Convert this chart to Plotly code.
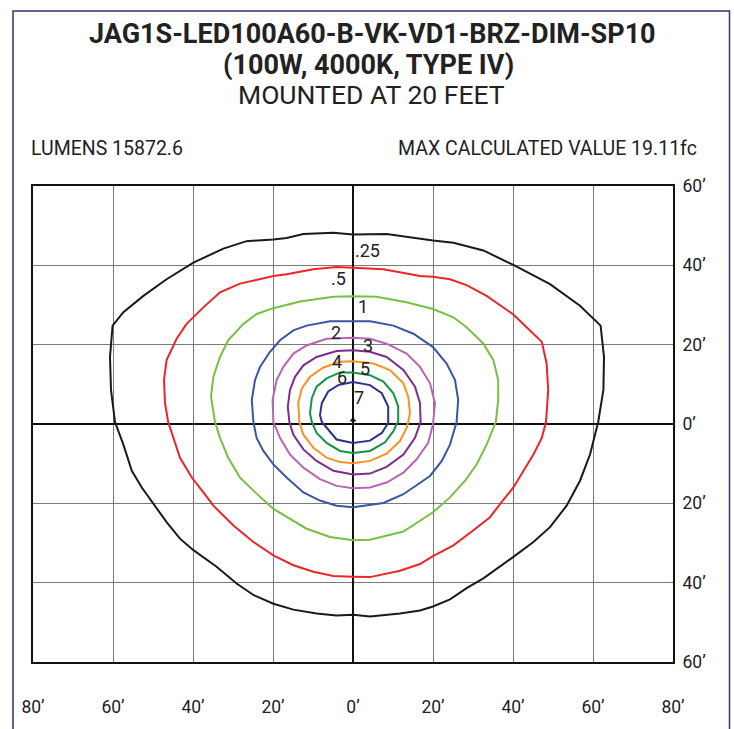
import plotly.graph_objects as go

# ---- data (feet) ----
LEVELS = [".25", ".5", "1", "2", "3", "4", "5", "6", "7"]
COLORS = ["#1a1a1a", "#ed2529", "#78c043", "#3b55a6", "#b766b4", "#7a2e8d", "#f7931e", "#149447", "#2e3192"]

C025_X = [0, 8.4, 20, 25.1, 32.6, 40.1, 49.25, 56.75, 61.9, 62.75, 62.6, 61.3, 60.5, 59.25, 56.75, 53.4, 49.25, 45.1, 40.1, 35.9, 32.6, 28.4, 24.25, 20, 16.75, 11.75, 4.25, 0, -4.1, -9.1, -14.9, -19.9, -24.9, -29.1, -34.1, -39.9, -43.25, -46.6, -49.9, -52.8, -55.3, -57.4, -59.5, -60.5, -60.75, -60.1, -57.4, -52.4, -46.6, -39.9, -32.4, -26.6, -19.9, -16.6, -12.4, -4.9, 0]
C025_Y = [47.75, 47.9, 46.25, 45.7, 43.75, 40.1, 35.25, 29.8, 24.8, 16.9, 8.6, 0.5, -2.7, -7.7, -14.3, -20.6, -26, -29.75, -33.5, -36.4, -38.9, -41.4, -44.2, -46, -47, -47.8, -48.5, -48.1, -48.25, -47.8, -46.8, -45.3, -43.1, -40.2, -36, -31.8, -28.9, -24.75, -20.2, -16, -11.8, -5.2, 0.5, 8.6, 16.9, 24.8, 28.2, 32.3, 36.5, 40.7, 44.2, 46.1, 46.5, 46.9, 47.9, 48.2, 47.75]

C05_X = [0, 7.6, 16.75, 20, 24.25, 28.4, 33.4, 40.1, 43.4, 47.2, 48.4, 48.8, 48.25, 47.2, 45.1, 42.6, 40.1, 36.75, 34.25, 30.1, 25.1, 20, 16.75, 11.75, 4.25, 0, -4.9, -9.9, -14.9, -19.9, -24.9, -29.9, -34.9, -37.4, -40.3, -43.25, -44.9, -46.2, -47, -47.25, -46.6, -44.1, -41.6, -37.4, -33.25, -28.25, -19.9, -16.6, -9.9, -4.1, 0]
C05_Y = [39.4, 39, 37.3, 37.1, 36.5, 35, 32.3, 27.6, 24.4, 20.7, 15.25, 8.6, 0.5, -3.5, -7.7, -11.8, -16, -20.2, -23.5, -26.8, -30.6, -33.3, -35.3, -37, -38.6, -38.5, -38.3, -37.25, -35.6, -33.1, -29.75, -25.6, -20.6, -17.25, -13.5, -8.5, -3.5, 0.5, 5.25, 11.1, 16.1, 21.5, 25.25, 29.4, 33.2, 35.4, 37.3, 37.75, 39, 39.6, 39.4]

C1_X = [0, 5.9, 13.4, 20, 25.1, 28.4, 32.6, 35.1, 36.3, 36.3, 35.7, 35.1, 33.4, 30.9, 28, 24.25, 20, 12.6, 4.25, 0, -5.75, -11.6, -15.75, -19.9, -24.9, -28.25, -31.2, -33.25, -34.5, -35.5, -34.9, -33.25, -31.2, -27.4, -24.1, -19.9, -13.25, -4.9, 0]
C1_Y = [32.2, 32.1, 30.7, 29, 26.9, 24.4, 20.25, 16.1, 11.1, 6.1, 0.5, -1, -5.2, -10.2, -14.3, -18.5, -22.25, -27.1, -29.2, -29.3, -28.5, -26.4, -23.9, -21.4, -16.8, -13.5, -8.5, -3.5, 0.5, 6.9, 11.9, 16.9, 21.1, 25.25, 27.75, 29.2, 30.9, 32.1, 32.2]

C2_X = [0, 4.25, 10.1, 15.1, 20, 23.4, 25.5, 26.3, 25.9, 25.5, 24.25, 22.2, 19.25, 12.6, 7.6, 0, -4.1, -8.25, -12.4, -16.6, -19.9, -22.4, -24.1, -24.9, -25.3, -24.5, -23.25, -20.75, -18.25, -14.9, -11.6, -5.75, 0]
C2_Y = [25.9, 25.9, 24.8, 22.75, 19.4, 15.25, 11.1, 6.1, 0.5, -1, -5.2, -9.3, -13.1, -17.7, -19.9, -21, -20.6, -19.3, -17.25, -13.5, -10.2, -6.8, -3.5, 0.5, 6.1, 11.1, 14.4, 18.2, 21.1, 23.6, 24.8, 25.9, 25.9]

C3_X = [0, 4.25, 8.4, 13.4, 16.75, 19.25, 20.5, 20, 18.8, 15.9, 12.6, 8.4, 4.25, 0, -4.1, -8.25, -12.4, -15.75, -18.25, -19.9, -20.1, -19.1, -17.4, -14.9, -11.6, -6.6, 0]
C3_Y = [21.75, 21.5, 20.25, 17.75, 14.4, 10.25, 5.25, 0, -4.75, -8.9, -12.25, -14.75, -16, -16.2, -15.6, -13.9, -11, -7.7, -3.5, 0.5, 6.1, 11.1, 14.4, 17.75, 19.8, 21.5, 21.75]

C4_X = [0, 4.25, 8.4, 12.6, 15.5, 16.75, 16.9, 15.5, 12.6, 8.4, 4.25, 0, -4.9, -9.1, -12.4, -14.9, -15.9, -16.3, -15.75, -14.5, -12.4, -9.1, -4.1, 0]
C4_Y = [18.6, 18.2, 16.9, 13.6, 9.4, 5.25, 0.5, -3.5, -7.7, -10.8, -12.5, -12.7, -11.8, -9.3, -6.4, -2.7, 0.5, 4.4, 8.6, 11.9, 14.8, 16.9, 18.4, 18.6]

C5_X = [0, 5.1, 9.25, 12.6, 13.8, 14.25, 13.8, 13.4, 11.75, 8.4, 4.25, 0, -3.25, -6.6, -9.9, -12.4, -13.4, -13.7, -12.8, -10.75, -7.4, -3.25, 0]
C5_Y = [15.8, 15.25, 13.6, 10.25, 6.9, 2.75, 0.5, -1, -4.3, -7.5, -9.3, -9.9, -9.6, -8.5, -6, -2.7, 0.5, 5.25, 9, 11.9, 14.25, 15.7, 15.8]

C6_X = [0, 4.25, 7.6, 10.1, 11.3, 11.3, 10.9, 10.1, 8, 4.25, 0, -3.25, -6.6, -9.1, -10.3, -10.75, -10.3, -9.1, -6.6, -3.25, 0]
C6_Y = [13, 12.3, 10.7, 7.75, 4.4, 0.5, 0, -1.8, -4.6, -6.8, -7.3, -6.8, -4.75, -2.25, 0.5, 2.75, 6.5, 9.4, 11.5, 13, 13]

C7_X = [0, 4.25, 7.2, 8.8, 8.8, 7.2, 4.25, 0, -4.1, -6.6, -7.8, -8.25, -7.8, -6.2, -3.7, 0]
C7_Y = [10.6, 9.8, 7.75, 4.4, 0.25, -2.25, -4.2, -4.8, -3.9, -1, 0.5, 2.3, 5.25, 8.2, 9.8, 10.6]

LABEL_X = [3.5, -3.6, 2.4, -4.25, 3.7, -4.0, 2.9, -2.75, 1.4]
LABEL_Y = [43.75, 36.6, 29.5, 23.0, 19.75, 15.75, 14.0, 11.6, 6.8]

X_TICKS = [-80, -60, -40, -20, 0, 20, 40, 60, 80]
X_TICKTEXT = ["80’", "60’", "40’", "20’", "0’", "20’", "40’", "60’", "80’"]
Y_TICKS = [60, 40, 20, 0, -20, -40, -60]
Y_TICKTEXT = ["60’", "40’", "20’", "0’", "20’", "40’", "60’"]

TITLE1 = "JAG1S-LED100A60-B-VK-VD1-BRZ-DIM-SP10"
TITLE2 = "(100W, 4000K, TYPE IV)"
TITLE3 = "MOUNTED AT 20 FEET"
LEFT_NOTE = "LUMENS 15872.6"
RIGHT_NOTE = "MAX CALCULATED VALUE 19.11fc"

CONTOURS = [(C025_X, C025_Y), (C05_X, C05_Y), (C1_X, C1_Y), (C2_X, C2_Y), (C3_X, C3_Y),
            (C4_X, C4_Y), (C5_X, C5_Y), (C6_X, C6_Y), (C7_X, C7_Y)]

FONT = "Roboto, Arial, sans-serif"
TXT = "#222222"

fig = go.Figure()
for (cx, cy), lev, col in zip(CONTOURS, LEVELS, COLORS):
    fig.add_trace(go.Scatter(x=cx, y=cy, mode="lines", name=lev,
                             line=dict(color=col, width=2), hoverinfo="skip"))

fig.add_trace(go.Scatter(x=[0], y=[1], mode="markers",
                         marker=dict(symbol="triangle-up", size=6, color="#111111"),
                         hoverinfo="skip"))

for lx, ly, lev in zip(LABEL_X, LABEL_Y, LEVELS):
    fig.add_annotation(x=lx, y=ly, text=lev, showarrow=False,
                       font=dict(family=FONT, size=18, color=TXT))

W, H = 734, 729
L, R, T, B = 33, 61, 186, 64
PW, PH = W - L - R, H - T - B


def px_to_paper_x(px):
    return (px - L) / PW


def px_to_paper_y(py):
    return (H - B - py) / PH


fig.add_annotation(xref="paper", yref="paper", x=px_to_paper_x(372), y=px_to_paper_y(33),
                   text="<b>" + TITLE1 + "</b>", showarrow=False, yanchor="middle",
                   font=dict(family=FONT, size=27, color=TXT))
fig.add_annotation(xref="paper", yref="paper", x=px_to_paper_x(368.5), y=px_to_paper_y(64),
                   text="<b>" + TITLE2 + "</b>", showarrow=False, yanchor="middle",
                   font=dict(family=FONT, size=27, color=TXT))
fig.add_annotation(xref="paper", yref="paper", x=px_to_paper_x(371), y=px_to_paper_y(94),
                   text=TITLE3, showarrow=False, yanchor="middle",
                   font=dict(family=FONT, size=26.5, color=TXT))
fig.add_annotation(xref="paper", yref="paper", x=px_to_paper_x(29), y=px_to_paper_y(148),
                   text=LEFT_NOTE, showarrow=False, xanchor="left", yanchor="middle",
                   font=dict(family=FONT, size=19.5, color=TXT))
fig.add_annotation(xref="paper", yref="paper", x=px_to_paper_x(699), y=px_to_paper_y(148),
                   text=RIGHT_NOTE, showarrow=False, xanchor="right", yanchor="middle",
                   font=dict(family=FONT, size=19.5, color=TXT))

fig.add_shape(type="rect", xref="paper", yref="paper",
              x0=px_to_paper_x(13), x1=px_to_paper_x(729.5),
              y0=px_to_paper_y(760), y1=px_to_paper_y(10),
              line=dict(color="#2b3566", width=1.5), layer="above")

fig.update_layout(
    width=W, height=H,
    margin=dict(l=L, r=R, t=T, b=B, pad=0),
    paper_bgcolor="white", plot_bgcolor="white",
    showlegend=False,
    font=dict(family=FONT, color=TXT),
)
fig.update_xaxes(range=[-80, 80], tickvals=X_TICKS, ticktext=X_TICKTEXT,
                 showgrid=True, gridcolor="#7a7a7a", gridwidth=1,
                 zeroline=True, zerolinecolor="#111111", zerolinewidth=2,
                 showline=True, mirror=True, linecolor="#111111", linewidth=2,
                 ticks="outside", ticklen=28, tickcolor="rgba(0,0,0,0)",
                 tickfont=dict(family=FONT, size=17.5, color=TXT), fixedrange=True)
fig.update_yaxes(range=[-60, 60], tickvals=Y_TICKS, ticktext=Y_TICKTEXT, side="right",
                 showgrid=True, gridcolor="#7a7a7a", gridwidth=1,
                 zeroline=True, zerolinecolor="#111111", zerolinewidth=2,
                 showline=True, mirror=True, linecolor="#111111", linewidth=2,
                 ticks="outside", ticklen=4, tickcolor="rgba(0,0,0,0)",
                 tickfont=dict(family=FONT, size=17.5, color=TXT), fixedrange=True)

fig.write_html("out.html", config={"displayModeBar": False},
               post_script="document.body.style.margin='0';document.body.style.overflow='hidden';")
